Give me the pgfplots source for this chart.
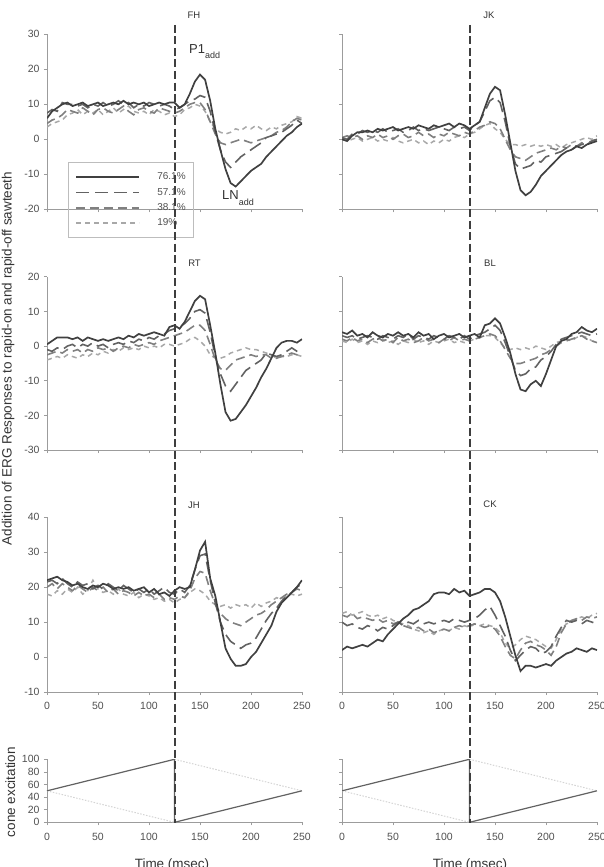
\documentclass[border=0pt]{standalone}
\usepackage{fontspec}
\setmainfont{Liberation Sans}
\usepackage{pgfplots}
\usepackage{pgfplotstable}
\pgfplotsset{compat=1.18}

\definecolor{c76}{HTML}{404040}
\definecolor{c57}{HTML}{626262}
\definecolor{c38}{HTML}{808080}
\definecolor{c19}{HTML}{A8A8A8}
\definecolor{axgray}{HTML}{9C9C9C}
\definecolor{legc}{HTML}{BDBDBD}
\definecolor{tickc}{HTML}{505050}
\definecolor{txt}{HTML}{333333}
\definecolor{vline}{HTML}{3E3E3E}
\definecolor{conel}{HTML}{D4D4D4}

% columns: t, 76.1%, 57.1%, 38.1%, 19%
\pgfplotstableread{
t a b c d
0 6.0 7.5 4.5 3.5
5 8.0 8.5 5.5 4.5
10 9.0 8.0 6.0 5.0
15 10.0 10.5 7.0 5.5
20 10.5 10.0 8.5 7.0
25 9.5 10.0 8.0 7.5
30 10.0 9.5 7.5 8.5
35 10.5 10.0 9.0 7.0
40 9.5 9.0 8.0 8.0
45 10.0 10.0 7.0 7.5
50 10.5 9.5 8.5 8.5
55 9.5 10.5 9.0 7.0
60 10.0 9.5 8.0 8.0
65 10.5 10.0 7.5 9.0
70 10.0 11.0 8.5 7.5
75 11.0 10.0 9.5 8.5
80 10.0 10.5 8.0 9.5
85 10.5 9.0 7.0 8.0
90 10.0 10.0 8.5 7.5
95 10.5 9.5 9.0 8.0
100 9.5 10.5 8.0 7.0
105 10.0 10.0 7.5 8.5
110 10.5 9.5 9.0 8.0
115 10.0 10.0 8.5 7.0
120 10.5 9.5 8.0 7.5
125 10.5 8.5 7.5 6.5
130 9.0 9.0 8.0 7.0
135 10.0 10.0 9.0 8.5
140 13.0 11.0 10.0 9.0
145 16.5 11.5 10.5 10.0
150 18.5 12.5 10.5 9.5
155 17.0 12.0 8.5 8.0
160 11.0 8.0 5.0 5.0
165 3.0 2.0 1.5 3.0
170 -3.0 -3.0 -1.0 2.0
175 -8.5 -6.5 -1.5 1.5
180 -12.5 -8.0 -1.0 2.0
185 -13.5 -6.5 -0.5 3.0
190 -12.0 -5.0 0.0 2.5
195 -10.5 -4.0 -0.5 3.5
200 -9.0 -3.0 -1.0 3.0
205 -8.0 -2.0 -0.5 4.0
210 -7.0 -1.0 0.0 3.0
215 -5.0 0.5 0.5 2.5
220 -3.5 1.0 1.0 3.5
225 -2.0 1.5 2.0 3.0
230 -0.5 2.0 2.5 4.0
235 1.0 3.0 3.5 4.5
240 2.0 4.0 5.0 5.0
245 3.5 5.5 6.0 6.5
250 4.5 4.5 5.5 6.0
}\tFH

\pgfplotstableread{
t a b c d
0 0.0 0.5 0.5 0.0
5 -0.5 0.0 1.0 -0.5
10 1.0 1.5 0.5 0.0
15 2.0 1.5 1.0 0.5
20 2.0 2.5 0.0 -0.5
25 2.5 2.0 1.0 0.0
30 2.0 2.5 0.5 0.5
35 3.0 2.0 1.5 -0.5
40 2.5 3.0 0.5 0.0
45 3.0 2.0 1.0 -0.5
50 3.5 2.5 0.0 0.5
55 2.5 3.0 1.0 -0.5
60 3.0 2.0 1.5 -1.0
65 3.5 2.5 0.5 -0.5
70 3.0 3.5 1.0 0.0
75 4.0 2.5 2.0 -1.0
80 3.5 3.0 1.0 -0.5
85 3.0 2.5 1.5 -1.5
90 4.0 3.0 0.5 -0.5
95 3.5 3.5 1.5 -1.0
100 4.0 3.0 1.0 0.0
105 4.5 2.5 2.0 -0.5
110 3.5 3.5 1.5 0.5
115 4.5 3.0 1.0 1.0
120 4.0 3.5 2.0 0.5
125 3.0 2.5 1.5 1.5
130 4.0 4.0 2.5 2.0
135 5.0 5.0 3.5 3.0
140 9.0 8.0 4.0 4.0
145 13.0 11.0 5.0 4.5
150 15.0 12.0 4.5 3.0
155 14.0 10.5 3.0 2.0
160 7.0 5.0 0.0 0.0
165 -1.0 -2.0 -3.0 -1.5
170 -9.0 -7.0 -5.0 -1.5
175 -14.5 -8.5 -5.5 -2.0
180 -16.0 -8.0 -6.0 -1.5
185 -15.0 -7.5 -5.0 -2.0
190 -13.0 -6.0 -4.0 -1.5
195 -10.5 -6.5 -3.5 -2.0
200 -9.0 -5.0 -3.0 -1.5
205 -7.5 -4.5 -2.5 -2.0
210 -6.0 -4.0 -3.0 -1.5
215 -4.5 -3.5 -2.0 -2.5
220 -3.5 -2.5 -2.5 -1.5
225 -3.0 -3.0 -1.5 -1.0
230 -2.0 -2.0 -2.0 -0.5
235 -2.5 -1.5 -1.0 0.0
240 -1.5 -1.0 -1.5 0.5
245 -1.0 -0.5 -0.5 0.0
250 -0.5 0.0 0.0 1.0
}\tJK

\pgfplotstableread{
t a b c d
0 0.5 -1.0 -2.5 -4.0
5 1.5 -1.5 -2.0 -3.5
10 2.5 -0.5 -1.5 -3.0
15 2.5 -1.0 -2.0 -3.5
20 2.5 0.0 -1.0 -2.5
25 2.0 0.5 -1.5 -3.0
30 2.5 -0.5 -1.0 -3.5
35 1.5 0.5 -2.0 -2.5
40 2.5 0.0 -1.0 -3.0
45 2.0 1.0 -1.5 -2.0
50 1.5 0.0 -0.5 -2.5
55 2.0 0.5 -1.0 -1.5
60 1.5 -0.5 -0.5 -2.0
65 2.0 0.5 -1.5 -1.0
70 2.5 1.0 -0.5 -1.5
75 2.0 0.5 0.0 -0.5
80 3.0 1.5 -0.5 -1.0
85 2.5 1.0 0.5 -0.5
90 3.5 2.0 0.0 -1.0
95 3.0 1.5 0.5 0.0
100 3.5 2.5 1.0 -0.5
105 4.0 2.0 0.5 0.0
110 3.5 3.0 1.5 -0.5
115 3.0 3.5 2.0 0.5
120 5.5 4.5 2.5 0.5
125 6.0 5.0 3.0 0.0
130 5.0 5.5 3.5 0.5
135 7.0 6.5 4.0 1.0
140 10.0 8.0 5.0 2.0
145 13.0 10.0 6.0 2.5
150 14.5 10.5 6.0 1.5
155 13.5 9.5 4.5 0.0
160 6.0 4.0 0.5 -2.5
165 -2.0 -3.0 -4.0 -3.5
170 -11.0 -8.0 -6.5 -3.5
175 -19.0 -11.5 -7.0 -3.0
180 -21.5 -13.0 -5.5 -2.0
185 -21.0 -11.0 -4.0 -1.5
190 -19.0 -9.0 -3.5 -1.0
195 -17.0 -7.0 -3.0 -0.5
200 -14.5 -6.0 -2.5 -1.0
205 -12.0 -5.0 -3.0 -1.0
210 -9.0 -4.0 -2.5 -1.5
215 -6.5 -2.0 -2.5 -2.0
220 -3.5 -2.5 -3.5 -2.5
225 -0.5 -3.0 -3.5 -3.5
230 1.0 -2.5 -3.0 -3.0
235 1.5 -1.5 -2.5 -3.0
240 1.5 -0.5 -2.0 -2.5
245 1.0 -1.5 -2.5 -2.5
250 2.0 -2.5 -3.0 -3.0
}\tRT

\pgfplotstableread{
t a b c d
0 4.0 3.0 2.0 1.5
5 3.5 2.5 1.5 1.0
10 4.5 3.0 2.5 2.0
15 3.0 2.0 1.5 1.0
20 3.5 2.5 2.0 1.5
25 2.5 3.0 1.0 0.5
30 4.0 2.5 2.0 1.5
35 3.0 2.0 2.5 1.0
40 2.5 3.0 1.5 2.0
45 3.5 2.5 2.0 1.0
50 3.0 2.0 1.0 1.5
55 4.0 3.0 2.5 0.5
60 3.0 2.5 1.5 1.5
65 3.5 3.5 2.0 1.0
70 2.5 2.0 1.0 2.0
75 4.0 3.0 1.5 1.0
80 3.0 2.5 2.5 1.5
85 3.5 2.0 1.5 0.5
90 2.0 3.0 2.0 1.5
95 3.0 2.5 1.0 1.0
100 3.5 2.0 2.0 1.5
105 2.5 3.0 1.5 2.0
110 3.0 2.5 2.5 1.0
115 3.5 2.0 1.5 1.5
120 2.5 3.0 2.0 1.0
125 3.0 2.0 1.5 1.5
130 3.5 3.0 2.0 2.0
135 2.5 3.5 2.5 2.5
140 6.0 4.0 3.0 3.0
145 6.5 5.0 3.5 3.0
150 8.0 6.0 3.0 2.5
155 6.5 4.5 1.5 1.0
160 2.5 1.0 -1.0 -0.5
165 -2.0 -3.0 -3.5 -1.0
170 -8.0 -7.0 -5.0 -0.5
175 -12.5 -8.5 -5.0 -1.0
180 -13.0 -8.0 -4.5 -0.5
185 -11.0 -6.5 -4.0 -1.0
190 -10.0 -6.0 -3.5 0.0
195 -11.5 -4.0 -2.5 -0.5
200 -8.0 -3.0 -2.0 -1.0
205 -4.0 -1.5 -1.0 0.0
210 0.0 0.5 0.0 1.0
215 1.5 2.0 1.0 1.5
220 2.0 2.5 1.5 2.0
225 3.5 3.0 2.0 1.5
230 4.0 3.5 2.5 2.5
235 5.5 4.0 3.0 3.0
240 4.5 3.5 2.0 2.5
245 4.0 3.0 1.5 1.5
250 5.0 3.5 1.0 1.0
}\tBL

\pgfplotstableread{
t a b c d
0 22.0 21.5 20.0 18.0
5 22.5 22.0 21.0 17.5
10 23.0 21.0 19.5 19.0
15 22.0 22.5 21.0 18.0
20 21.5 21.0 20.0 19.5
25 20.5 20.0 19.0 18.5
30 21.0 21.5 20.5 20.0
35 20.0 20.5 19.5 18.0
40 19.5 21.0 18.5 19.0
45 20.5 19.5 20.0 22.0
50 20.0 20.5 19.0 19.5
55 21.0 19.5 20.0 18.5
60 20.5 21.0 18.5 19.0
65 19.5 20.0 19.5 18.0
70 20.0 19.0 18.0 19.5
75 19.5 20.5 19.0 18.0
80 20.0 19.5 18.5 17.5
85 19.0 18.5 17.5 18.5
90 19.5 19.5 18.5 17.0
95 20.0 18.5 17.5 18.0
100 18.5 19.5 18.0 17.5
105 19.5 18.0 17.0 16.5
110 18.0 19.0 18.0 17.0
115 18.5 20.0 16.5 16.0
120 17.5 18.5 17.0 16.5
125 19.0 18.0 16.5 15.5
130 20.0 19.5 17.5 16.5
135 19.5 18.5 17.0 17.0
140 20.0 20.5 19.0 18.5
145 25.0 25.0 22.5 19.5
150 30.5 29.0 24.5 19.0
155 33.0 29.5 24.0 18.0
160 22.5 22.0 19.0 16.0
165 17.5 15.5 15.0 15.0
170 10.0 10.0 12.5 14.5
175 2.5 6.5 11.0 15.0
180 -0.5 4.5 10.0 14.0
185 -2.5 3.5 9.5 15.0
190 -2.5 2.5 9.0 14.5
195 -2.0 3.5 10.0 15.0
200 0.0 4.0 11.0 14.0
205 1.5 5.5 12.0 15.5
210 4.0 8.0 12.5 14.5
215 6.5 10.5 13.5 15.5
220 9.0 12.5 15.0 16.0
225 13.0 14.0 16.0 17.0
230 15.5 16.0 17.0 16.5
235 17.0 17.5 18.0 17.5
240 18.5 18.5 18.5 18.0
245 20.0 20.0 19.5 17.5
250 22.0 21.0 19.0 18.0
}\tJH

\pgfplotstableread{
t a b c d
0 2.0 10.0 12.0 12.5
5 3.0 9.0 11.5 13.0
10 2.5 9.5 12.5 12.0
15 3.0 8.5 11.0 12.5
20 3.5 8.0 11.5 13.0
25 3.0 9.0 11.0 12.0
30 4.0 8.5 10.5 11.5
35 5.0 7.5 11.0 12.0
40 4.5 8.5 10.0 11.0
45 6.5 8.0 10.5 11.5
50 8.0 9.0 9.5 10.5
55 9.5 10.0 10.0 10.0
60 11.0 9.0 9.0 9.5
65 12.0 10.0 8.5 9.0
70 13.5 9.5 8.0 8.0
75 14.0 10.5 8.5 7.5
80 15.0 9.5 7.5 7.0
85 16.0 10.0 8.0 7.5
90 18.0 9.5 7.0 6.5
95 18.5 10.0 7.5 7.5
100 18.5 10.5 8.0 8.0
105 18.0 10.0 7.5 7.5
110 19.5 11.0 8.5 8.5
115 18.5 10.5 9.0 8.0
120 19.0 10.0 8.5 9.0
125 17.5 10.5 9.0 8.5
130 18.0 11.0 9.5 9.5
135 18.5 12.0 9.0 9.0
140 19.5 13.5 8.5 9.5
145 19.5 14.5 9.0 9.0
150 18.5 12.0 8.0 8.5
155 16.0 9.0 6.0 7.0
160 11.5 6.0 3.0 4.0
165 6.0 2.0 0.5 2.5
170 0.5 -1.0 -0.5 3.5
175 -4.0 0.5 2.0 5.0
180 -2.5 2.0 4.0 6.0
185 -2.5 3.0 4.5 5.5
190 -3.0 2.5 3.5 5.0
195 -2.5 1.0 3.0 4.0
200 -2.0 1.5 2.0 3.0
205 -2.5 3.0 0.5 2.5
210 -1.0 6.0 3.0 5.0
215 0.0 8.5 7.0 8.0
220 1.0 10.5 9.5 9.5
225 1.5 10.0 10.5 10.0
230 2.5 10.5 11.0 11.0
235 2.0 9.5 10.5 11.5
240 1.5 10.5 11.5 11.0
245 2.5 10.0 11.0 12.0
250 2.0 9.5 11.5 12.5
}\tCK

\pgfplotsset{
  erg/.style={
    scale only axis, width=255pt, height=175pt,
    xmin=0, xmax=250, xtick={0,50,...,250},
    axis x line*=bottom, axis y line*=left,
    axis line style={draw=axgray, line width=0.8pt},
    tick align=outside, major tick length=3pt,
    tick style={draw=axgray, line width=0.8pt},
    tick label style={font=\fontsize{10.5}{12}\selectfont, text=tickc},
    /pgf/number format/assume math mode=true,
    yticklabel style={xshift=-1pt},
    xticklabel style={yshift=-4pt},
  },
  s76/.style={c76, line width=1.7pt},
  s57/.style={c57, line width=1.6pt, dash pattern=on 13pt off 6pt},
  s38/.style={c38, line width=1.6pt, dash pattern=on 9pt off 5pt},
  s19/.style={c19, line width=1.5pt, dash pattern=on 5pt off 4pt},
}

\newcommand{\four}[1]{%
  \addplot[s19] table[x=t,y=d]{#1};
  \addplot[s38] table[x=t,y=c]{#1};
  \addplot[s57] table[x=t,y=b]{#1};
  \addplot[s76] table[x=t,y=a]{#1};
}

\begin{document}
\begin{tikzpicture}
\path[use as bounding box] (0pt,0pt) rectangle (603pt,-867pt);

% row 1
\begin{axis}[erg, at={(47pt,-209.3pt)}, anchor=south west,
  ymin=-20, ymax=30, ytick={-20,-10,...,30}, xticklabels={},
  legend style={at={(0.0835,0.2686)}, anchor=north west, draw=legc, fill=none,
    line width=0.6pt, font=\fontsize{10}{12}\selectfont, text=tickc,
    inner xsep=7pt, inner ysep=9pt, row sep=5pt, nodes={inner sep=1pt},
    /tikz/every odd column/.append style={column sep=16pt}},
  legend cell align=left, reverse legend,
  legend image code/.code={\draw[#1] (0pt,0pt) -- (63pt,0pt);}]
\four{\tFH}
\addlegendentry{19\%}
\addlegendentry{38.1\%}
\addlegendentry{57.1\%}
\addlegendentry{76.1\%}
\node[anchor=base west, inner sep=0pt, text=txt, font=\fontsize{13}{15}\selectfont]
  at (axis cs:139.2,24.6) {P1\raisebox{-5pt}{\fontsize{9}{10}\selectfont add}};
\node[anchor=base west, inner sep=0pt, text=txt, font=\fontsize{13}{15}\selectfont]
  at (axis cs:171.6,-17.2) {LN\raisebox{-5.5pt}{\fontsize{9}{10}\selectfont add}};
\end{axis}

\begin{axis}[erg, at={(342pt,-209.3pt)}, anchor=south west,
  ymin=-20, ymax=30, ytick={-20,-10,...,30}, xticklabels={}, yticklabels={}]
\four{\tJK}
\end{axis}

% row 2
\begin{axis}[erg, height=173.5pt, at={(47pt,-450.2pt)}, anchor=south west,
  ymin=-30, ymax=20, ytick={-30,-20,...,20}, xticklabels={}]
\four{\tRT}
\end{axis}

\begin{axis}[erg, height=173.5pt, at={(342pt,-450.2pt)}, anchor=south west,
  ymin=-30, ymax=20, ytick={-30,-20,...,20}, xticklabels={}, yticklabels={}]
\four{\tBL}
\end{axis}

% row 3
\begin{axis}[erg, height=174.7pt, at={(47pt,-692pt)}, anchor=south west,
  ymin=-10, ymax=40, ytick={-10,0,...,40}]
\four{\tJH}
\end{axis}

\begin{axis}[erg, height=174.7pt, at={(342pt,-692pt)}, anchor=south west,
  ymin=-10, ymax=40, ytick={-10,0,...,40}, yticklabels={}]
\four{\tCK}
\end{axis}

% cone excitation
\begin{axis}[erg, height=63pt, at={(47pt,-822.3pt)}, anchor=south west,
  ymin=0, ymax=100, ytick={0,20,...,100}]
\addplot[conel, line width=1pt, dash pattern=on 1.5pt off 1.5pt] coordinates {(0,50) (125,0)};
\addplot[conel, line width=1pt, dash pattern=on 1.5pt off 1.5pt] coordinates {(125,100) (250,50)};
\addplot[c57, line width=1.2pt] coordinates {(0,50) (125,100) (125,0) (250,50)};
\end{axis}

\begin{axis}[erg, height=63pt, at={(342pt,-822.3pt)}, anchor=south west,
  ymin=0, ymax=100, ytick={0,20,...,100}, yticklabels={}]
\addplot[conel, line width=1pt, dash pattern=on 1.5pt off 1.5pt] coordinates {(0,50) (125,0)};
\addplot[conel, line width=1pt, dash pattern=on 1.5pt off 1.5pt] coordinates {(125,100) (250,50)};
\addplot[c57, line width=1.2pt] coordinates {(0,50) (125,100) (125,0) (250,50)};
\end{axis}

% stimulus transition markers
\draw[vline, line width=2pt, dash pattern=on 8pt off 3.5pt] (174.5pt,-25pt) -- (174.5pt,-823pt);
\draw[vline, line width=2pt, dash pattern=on 8pt off 3.5pt] (469.5pt,-25pt) -- (469.5pt,-823pt);

% panel titles
\begin{scope}[every node/.style={text=txt, font=\fontsize{9.5}{11}\selectfont, inner sep=0pt}]
\node at (194pt,-15pt) {FH};
\node at (489pt,-15pt) {JK};
\node at (194.5pt,-263pt) {RT};
\node at (490pt,-263.5pt) {BL};
\node at (194pt,-505pt) {JH};
\node at (490pt,-504pt) {CK};
\end{scope}

% axis titles
\node[rotate=90, anchor=base, inner sep=0pt, text=txt, font=\fontsize{13.5}{15}\selectfont]
  at (11.7pt,-358.5pt) {Addition of ERG Responses to rapid-on and rapid-off sawteeth};
\node[rotate=90, anchor=base, inner sep=0pt, text=txt, font=\fontsize{13.5}{15}\selectfont]
  at (15pt,-792pt) {cone excitation};
\node[anchor=base, inner sep=0pt, text=txt, font=\fontsize{13.5}{15}\selectfont]
  at (172pt,-868pt) {Time (msec)};
\node[anchor=base, inner sep=0pt, text=txt, font=\fontsize{13.5}{15}\selectfont]
  at (470pt,-868pt) {Time (msec)};
\end{tikzpicture}
\end{document}
